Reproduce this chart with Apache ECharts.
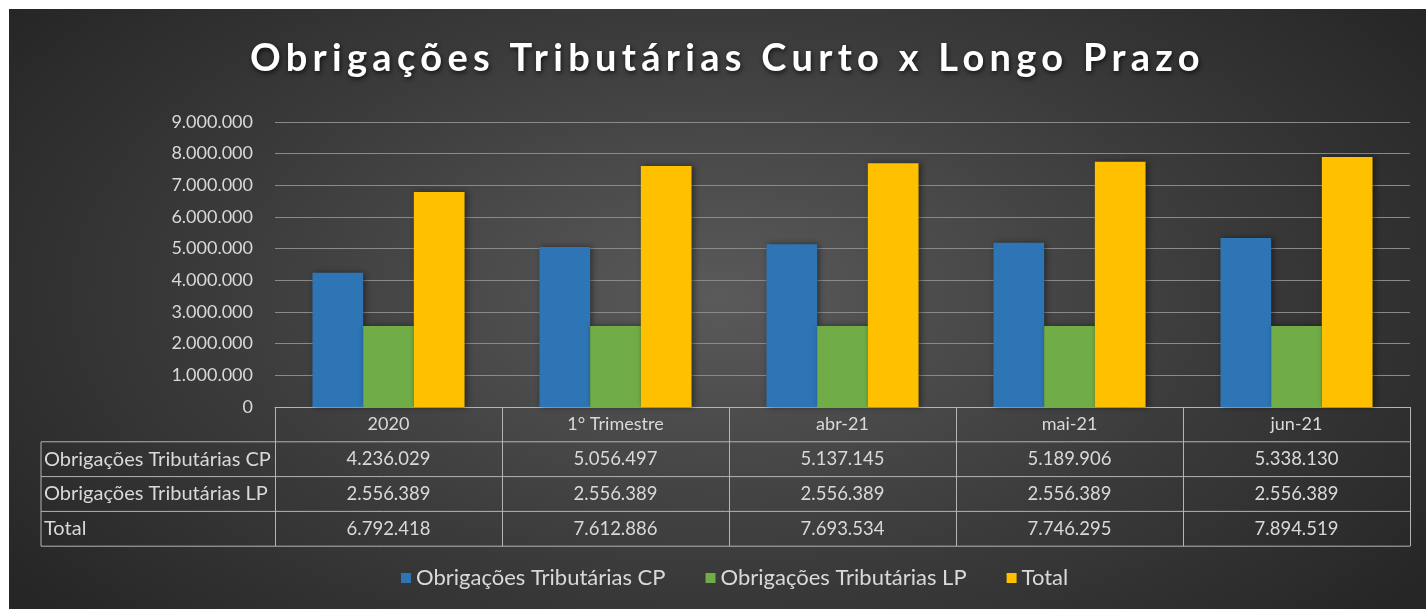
<!DOCTYPE html>
<html><head><meta charset="utf-8">
<script src="https://cdn.jsdelivr.net/npm/echarts@6/dist/echarts.min.js"></script>
<style>
html,body{margin:0;padding:0;background:#fff}
#c{width:1426px;height:609px;background:radial-gradient(ellipse 62% 80% at 50% 48%, #5a5a5a 0%, #3c3c3c 55%, #262626 100%) 9px 9px / 1417px 600px no-repeat, #fff;}
</style></head><body><div id="c"></div>
<script>
// ---- data ----
const titleText = 'Obrigações Tributárias Curto x Longo Prazo';
const categories = ['2020', '1° Trimestre', 'abr-21', 'mai-21', 'jun-21'];
const seriesNames = ['Obrigações Tributárias CP', 'Obrigações Tributárias LP', 'Total'];
const cpValues = [4236029, 5056497, 5137145, 5189906, 5338130];
const lpValues = [2556389, 2556389, 2556389, 2556389, 2556389];
const totalValues = [6792418, 7612886, 7693534, 7746295, 7894519];
const yMin = 0, yMax = 9000000, yInterval = 1000000;

// ---- layout / style ----
const FONT = 'Lato, Carlito, "Open Sans", sans-serif';
const TEXT = '#d9d9d9';
const TABLE_LINE = '#b4b4b4';
const PLOT_LEFT = 275, PLOT_RIGHT = 1410, PLOT_TOP = 122, ZERO_Y = 407, ROW_H = 34.8, TABLE_LEFT = 41;
const W = 1426, H = 609;
const TITLE_SIZE = 38, TITLE_SPACING = '5.3px';
const colors = ['#2E75B6', '#70AD47', '#FFC000'];

// letter-spaced title (canvas letterSpacing for the title font only)
(function () {
  const proto = CanvasRenderingContext2D.prototype;
  const orig = proto.fillText;
  proto.fillText = function () {
    if (this.font && this.font.indexOf(TITLE_SIZE + 'px') >= 0 && 'letterSpacing' in this) {
      const prev = this.letterSpacing;
      this.letterSpacing = TITLE_SPACING;
      const r = orig.apply(this, arguments);
      this.letterSpacing = prev;
      return r;
    }
    return orig.apply(this, arguments);
  };
})();

const fmt = v => String(v).replace(/\B(?=(\d{3})+(?!\d))/g, '.');
const rowValues = [cpValues, lpValues, totalValues];

const xAxes = [{
  type: 'category', data: categories, gridIndex: 0, position: 'bottom',
  axisLine: { show: true, lineStyle: { color: TABLE_LINE, width: 1 } },
  axisTick: { show: true, interval: 0, length: ROW_H * 4, lineStyle: { color: TABLE_LINE, width: 1 } },
  axisLabel: { interval: 0, margin: ROW_H / 2, verticalAlign: 'middle', color: TEXT, fontFamily: FONT, fontSize: 18 },
  splitLine: { show: false }
}];
rowValues.forEach((vals, k) => {
  xAxes.push({
    type: 'category', data: categories, gridIndex: 0, position: 'bottom', offset: ROW_H * (k + 1),
    axisLine: { show: false }, axisTick: { show: false }, splitLine: { show: false },
    axisLabel: { interval: 0, margin: ROW_H / 2, verticalAlign: 'middle', color: TEXT, fontFamily: FONT, fontSize: 18.5,
      formatter: (val, idx) => fmt(vals[idx]) }
  });
});

const graphics = [];
for (let k = 1; k <= 4; k++) {
  const y = ZERO_Y + ROW_H * k;
  graphics.push({ type: 'line', shape: { x1: TABLE_LEFT, y1: y, x2: PLOT_RIGHT, y2: y }, style: { stroke: TABLE_LINE, lineWidth: 1 } });
}
graphics.push({ type: 'line', shape: { x1: TABLE_LEFT, y1: ZERO_Y + ROW_H, x2: TABLE_LEFT, y2: ZERO_Y + ROW_H * 4 }, style: { stroke: TABLE_LINE, lineWidth: 1 } });
seriesNames.forEach((n, k) => {
  graphics.push({ type: 'text', x: TABLE_LEFT + 3, y: ZERO_Y + ROW_H * (k + 1.5),
    style: { text: n, fill: TEXT, font: '20px ' + FONT, verticalAlign: 'middle', align: 'left' } });
});

const values = [cpValues, lpValues, totalValues];
const chart = echarts.init(document.getElementById('c'), null, { renderer: 'canvas', width: W, height: H });
chart.setOption({
  backgroundColor: 'transparent',
  animation: false,
  textStyle: { fontFamily: FONT },
  title: {
    text: titleText, left: 245, top: 35,
    textStyle: { color: '#ffffff', fontSize: TITLE_SIZE, fontWeight: 'bold', fontFamily: FONT,
      textShadowColor: 'rgba(0,0,0,0.7)', textShadowBlur: 5, textShadowOffsetX: 1, textShadowOffsetY: 2 }
  },
  legend: {
    data: seriesNames, left: 396, top: 562, icon: 'rect', itemWidth: 10, itemHeight: 10, itemGap: 40,
    textStyle: { color: TEXT, fontSize: 22, fontFamily: FONT }
  },
  grid: { left: PLOT_LEFT, right: W - PLOT_RIGHT, top: PLOT_TOP, bottom: H - ZERO_Y, containLabel: false },
  xAxis: xAxes,
  yAxis: {
    type: 'value', min: yMin, max: yMax, interval: yInterval,
    axisLine: { show: false }, axisTick: { show: false },
    axisLabel: { color: TEXT, fontSize: 18, fontFamily: FONT, margin: 22, formatter: v => fmt(v) },
    splitLine: { lineStyle: { color: '#8a8a8a', width: 1 } }
  },
  graphic: graphics,
  series: seriesNames.map((n, i) => ({
    name: n, type: 'bar', data: values[i], xAxisIndex: 0,
    barGap: '0%', barCategoryGap: '33%',
    itemStyle: { color: colors[i], shadowColor: 'rgba(0,0,0,0.45)', shadowBlur: 6, shadowOffsetX: 2 }
  }))
});
</script></body></html>
